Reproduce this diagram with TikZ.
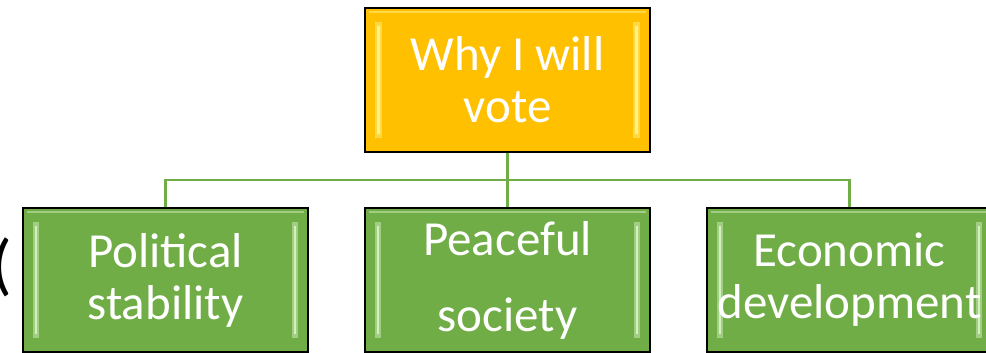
\documentclass[tikz,border=0pt]{standalone}
\usepackage{fontspec}
\setmainfont{Carlito}
\definecolor{gold}{HTML}{FFC000}
\definecolor{leaf}{HTML}{70AD47}
\definecolor{goldhi}{HTML}{FFF08A}
\definecolor{leafhi}{HTML}{D4EFC0}
\begin{document}
\begin{tikzpicture}[x=1pt,y=1pt,
  bevelbox/.style={draw=black, line width=1.6pt, minimum width=285pt, minimum height=144pt,
    inner sep=0pt, text=white, align=center, font=\fontsize{49}{52}\selectfont},
  goldbox/.style={bevelbox, fill=gold, path picture={
    \fill[goldhi!50!gold] ([xshift=10pt,yshift=14pt]path picture bounding box.south west) rectangle ([xshift=17pt,yshift=-14pt]path picture bounding box.north west);
    \fill[goldhi] ([xshift=12pt,yshift=18pt]path picture bounding box.south west) rectangle ([xshift=15pt,yshift=-18pt]path picture bounding box.north west);
    \fill[goldhi!50!gold] ([xshift=-17pt,yshift=14pt]path picture bounding box.south east) rectangle ([xshift=-10pt,yshift=-14pt]path picture bounding box.north east);
    \fill[goldhi] ([xshift=-15pt,yshift=18pt]path picture bounding box.south east) rectangle ([xshift=-12pt,yshift=-18pt]path picture bounding box.north east);
    \draw[goldhi!50!gold, line width=2pt] ([xshift=4pt,yshift=-4pt]path picture bounding box.north west) -- ([xshift=-4pt,yshift=-4pt]path picture bounding box.north east);
  }},
  leafbox/.style={bevelbox, fill=leaf, path picture={
    \fill[leafhi!50!leaf] ([xshift=10pt,yshift=14pt]path picture bounding box.south west) rectangle ([xshift=16pt,yshift=-14pt]path picture bounding box.north west);
    \fill[leafhi] ([xshift=12pt,yshift=18pt]path picture bounding box.south west) rectangle ([xshift=14pt,yshift=-18pt]path picture bounding box.north west);
    \fill[leafhi!50!leaf] ([xshift=-16pt,yshift=14pt]path picture bounding box.south east) rectangle ([xshift=-10pt,yshift=-14pt]path picture bounding box.north east);
    \fill[leafhi] ([xshift=-14pt,yshift=18pt]path picture bounding box.south east) rectangle ([xshift=-12pt,yshift=-18pt]path picture bounding box.north east);
    \draw[leafhi!50!leaf, line width=2pt] ([xshift=4pt,yshift=-4pt]path picture bounding box.north west) -- ([xshift=-4pt,yshift=-4pt]path picture bounding box.north east);
  }},
  link/.style={draw=leaf, line width=2.4pt}]
\useasboundingbox (0,0) rectangle (986,353);
\clip (0,0) rectangle (986,353);
\node[goldbox] (top) at (507.5,273) {Why I will\\vote};
\node[leafbox] (pol) at (165.5,73) {Political\\stability};
\node[leafbox, font=\fontsize{49}{76}\selectfont] (pea) at (507.5,73) {Peaceful\\society};
\node[leafbox] (eco) at (849.5,73) {Economic\\development};
\coordinate (hub) at (507.5,173);
\draw[link] (top.south) -- (hub);
\draw[link] (pol.north) |- (hub) -| (eco.north);
\draw[link] (hub) -- (pea.north);
\node[anchor=east, inner sep=0pt, font=\fontsize{68}{72}\selectfont] (paren) at (12,86) {(};
\end{tikzpicture}
\end{document}
